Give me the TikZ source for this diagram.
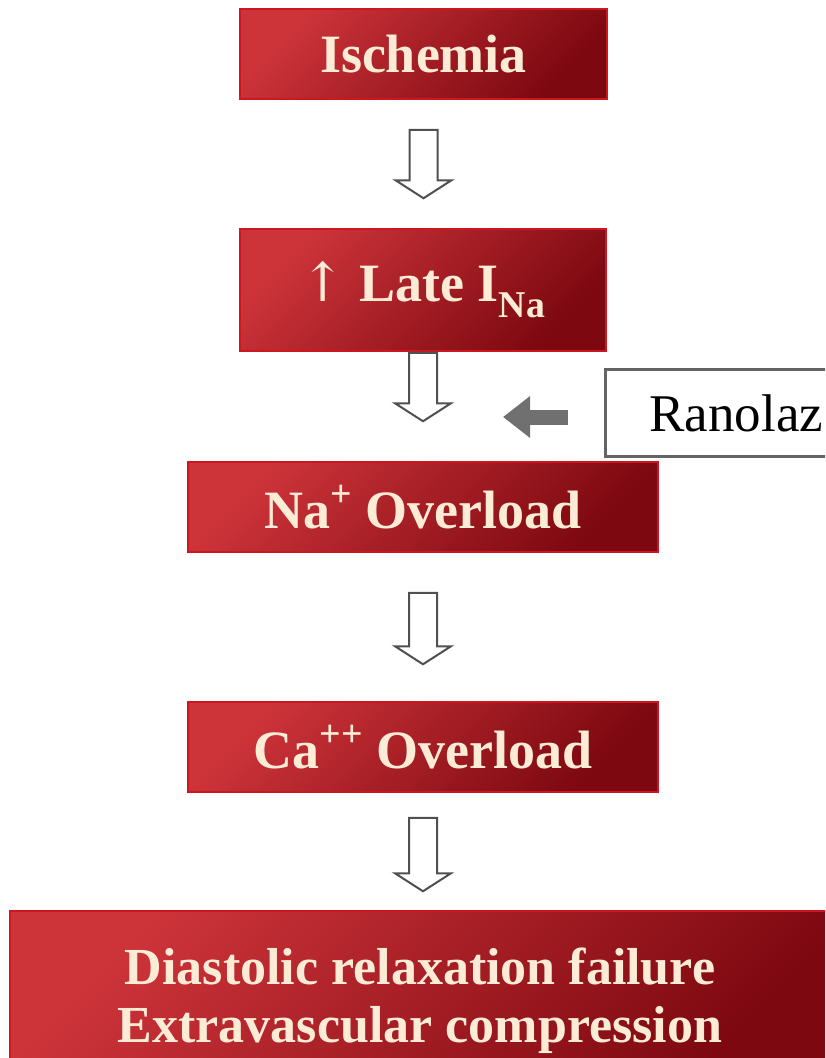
\documentclass[tikz,border=0pt]{standalone}
\usepackage{fontspec}
\setmainfont{Liberation Serif}
\newfontfamily\symbolfont{DejaVu Serif}
\usetikzlibrary{arrows.meta, positioning, calc}
\definecolor{boxlight}{RGB}{205, 52, 58}
\definecolor{boxmid}{RGB}{172, 22, 32}
\definecolor{boxdark}{RGB}{125, 8, 16}
\definecolor{boxedge}{RGB}{205, 22, 32}
\definecolor{boxtext}{RGB}{252, 236, 214}
\definecolor{arrowgray}{RGB}{80, 80, 80}
\definecolor{drugedge}{RGB}{100, 100, 100}
\definecolor{drugarrow}{RGB}{112, 112, 112}

\tikzset{
  redbox/.style={draw=boxedge, line width=1.5pt, top color=boxlight, middle color=boxmid,
    bottom color=boxdark, shading angle=45, text=boxtext,
    font=\fontsize{54}{58}\selectfont\bfseries, minimum height=90pt, inner sep=0pt},
  drugbox/.style={draw=drugedge, line width=3pt, fill=white, text=black,
    font=\fontsize{53}{58}\selectfont, minimum height=87pt, inner xsep=44pt, inner ysep=0pt},
  fat arrow/.style={draw=arrowgray, line width=2pt, fill=white, line join=miter,
    to path={let \p1=(\tikztostart), \p2=(\tikztotarget) in
      (\x1-14pt,\y1) -- (\x1-14pt,\y2+18pt) -- (\x1-28pt,\y2+18pt) -- (\x1,\y2)
      -- (\x1+28pt,\y2+18pt) -- (\x1+14pt,\y2+18pt) -- (\x1+14pt,\y1) -- cycle}},
  drug arrow/.style={draw=drugarrow, line width=15pt, -{Triangle[length=27pt, width=40pt]}}
}
\newcommand{\highsup}[1]{\raisebox{0.5ex}{\textsuperscript{#1}}}

\begin{document}
\begin{tikzpicture}[x=1pt, y=-1pt]
        \useasboundingbox (0,0) rectangle (825,1058);
        \fill[white] (0,0) rectangle (825,1058);
        \clip (0,0) rectangle (825,1058);

        % Cascade boxes
        \node[redbox, minimum width=367pt] (isch) at (423.5,54) {Ischemia};
        \node[redbox, minimum width=366pt, minimum height=122pt] (late) at (423,290)
              {{\symbolfont\mdseries ↑} Late I\textsubscript{Na}};
        \node[redbox, minimum width=470pt] (na) at (423,507) {Na\highsup{+} Overload};
        \node[redbox, minimum width=470pt] (ca) at (423,747) {Ca\highsup{++} Overload};
        \node[redbox, minimum width=820pt, minimum height=180pt, align=center,
              font=\fontsize{52}{58}\selectfont\bfseries] (fin) at (420,1001)
              {Diastolic relaxation failure\\Extravascular compression};

        % Drug box
        \node[drugbox, anchor=west] (ran) at (604,413) {Ranolaz};

        % Hollow arrows
        \draw[fat arrow] ([yshift=-30pt]isch.south) to ([yshift=30pt]late.north);
        \draw[fat arrow] ([yshift=-1pt]late.south) to ([yshift=40pt]na.north);
        \draw[fat arrow] ([yshift=-40pt]na.south) to ([yshift=37pt]ca.north);
        \draw[fat arrow] ([yshift=-25pt]ca.south) to ([yshift=19pt]fin.north);

        % Inhibition arrow
        \draw[drug arrow] ([xshift=-36pt, yshift=-4pt]ran.west) -- ([xshift=-101pt, yshift=-4pt]ran.west);
\end{tikzpicture}
\end{document}
